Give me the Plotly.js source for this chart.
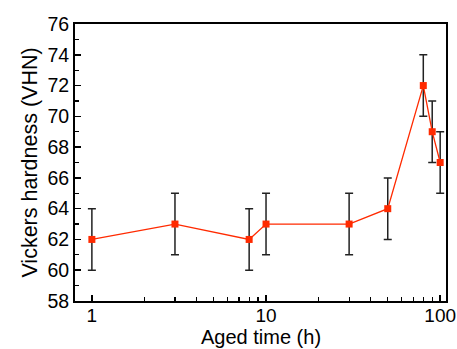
<!DOCTYPE html>
<html>
<head>
<meta charset="utf-8">
<script src="https://cdn.plot.ly/plotly-3.0.1.min.js"></script>
<style>html,body{margin:0;padding:0;background:#fff;}#chart{width:457px;height:349px;}</style>
</head>
<body>
<div id="chart"></div>
<script>
const agedTime = [1, 3, 8, 10, 30, 50, 80, 90, 100];
const hardness = [62, 63, 62, 63, 63, 64, 72, 69, 67];
const hardnessErr = [2, 2, 2, 2, 2, 2, 2, 2, 2];
const yTicks = [58, 60, 62, 64, 66, 68, 70, 72, 74, 76];
const xTicks = [1, 10, 100];
const xMinorTicks = [2, 3, 4, 5, 6, 7, 8, 9, 20, 30, 40, 50, 60, 70, 80, 90];
const xTitle = 'Aged time (h)';
const yTitle = 'Vickers hardness (VHN)';

const trace = {
  x: agedTime,
  y: hardness,
  type: 'scatter',
  mode: 'lines+markers',
  line: {color: '#ff2a00', width: 1.3},
  marker: {symbol: 'square', size: 7, color: '#ff2a00'},
  error_y: {type: 'data', array: hardnessErr, visible: true, color: '#222222', thickness: 1.5, width: 4}
};

const tickFont = {family: 'Liberation Sans, Arial, sans-serif', size: 19.5, color: '#000'};
const xTickFont = {family: 'Liberation Sans, Arial, sans-serif', size: 19, color: '#000'};
const titleFont = {family: 'Liberation Sans, Arial, sans-serif', size: 21.5, color: '#000'};
const xTitleFont = {family: 'Liberation Sans, Arial, sans-serif', size: 20, color: '#000'};

const layout = {
  width: 457, height: 349,
  margin: {l: 75, r: 11, t: 24, b: 48},
  paper_bgcolor: '#fff', plot_bgcolor: '#fff',
  showlegend: false,
  font: tickFont,
  xaxis: {
    type: 'log',
    range: [Math.log10(0.8), Math.log10(108)],
    tickvals: xTicks, ticktext: xTicks.map(String),
    ticks: 'inside', ticklen: 6, tickwidth: 1.5, tickcolor: '#000',
    ticklabelstandoff: -4,
    minor: {ticks: 'inside', ticklen: 4, tickwidth: 1.2, tickcolor: '#000', showgrid: false, tickvals: xMinorTicks},
    showline: true, linecolor: '#000', linewidth: 2, mirror: true,
    showgrid: false, zeroline: false,
    tickfont: xTickFont
  },
  yaxis: {
    range: [58, 76],
    tickvals: yTicks,
    ticks: 'inside', ticklen: 6, tickwidth: 1.5, tickcolor: '#000',
    minor: {ticks: 'inside', ticklen: 4, tickwidth: 1.2, tickcolor: '#000', dtick: 1, showgrid: false},
    showline: true, linecolor: '#000', linewidth: 2, mirror: true,
    showgrid: false, zeroline: false,
    tickfont: tickFont,
    title: {text: yTitle, font: titleFont, standoff: 4}
  },
  annotations: [{
    text: xTitle, font: xTitleFont, showarrow: false,
    xref: 'paper', yref: 'paper', x: 0.5, y: -0.1733,
    xanchor: 'center', yanchor: 'bottom', borderpad: 0
  }]
};

Plotly.newPlot('chart', [trace], layout, {staticPlot: true, displayModeBar: false});
</script>
</body>
</html>
